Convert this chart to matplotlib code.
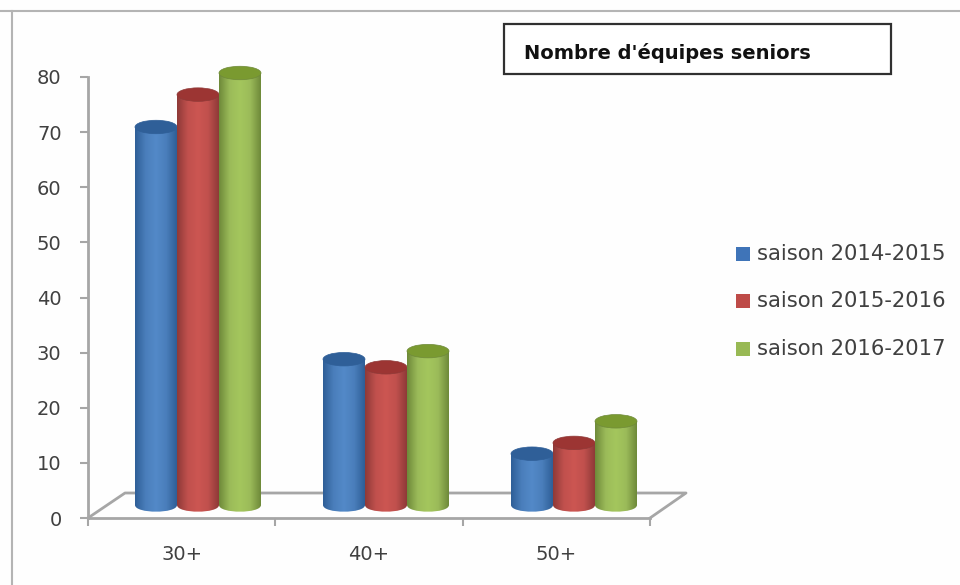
import numpy as np
import matplotlib
matplotlib.use('Agg')
from matplotlib import pyplot as plt
from matplotlib.lines import Line2D
from matplotlib.patches import Ellipse, PathPatch, Rectangle
from matplotlib.path import Path
from matplotlib.colors import LinearSegmentedColormap

categories = ['30+', '40+', '50+']
seasons = ['saison 2014-2015', 'saison 2015-2016', 'saison 2016-2017']
saison_2014 = [70, 27, 9.5]
saison_2015 = [76, 25.5, 11.5]
saison_2016 = [80, 28.5, 15.5]
y_ticks = [0, 10, 20, 30, 40, 50, 60, 70, 80]

# dark edge, main, light centre, top face, legend
blues = ['#2f5f98', '#4a7ebb', '#5389c8', '#2f5f98', '#3f74b8']
reds = ['#8f3a38', '#c0504d', '#cc5652', '#9c3533', '#be4b48']
greens = ['#6f8a3a', '#9bbb59', '#a4c65d', '#7a9a30', '#98b954']

W, H = 960, 585
GRAY = '#a6a6a6'
TEXT = '#404040'


def fx(x):
    return x / W


def fy(y):
    return 1 - y / H


def px_axes(x0, x1, y_bottom, y_top):
    return [fx(x0), fy(y_bottom), (x1 - x0) / W, (y_bottom - y_top) / H]


def px_line(xs, ys, color=GRAY, lw=2.0, zorder=-1):
    fig.add_artist(Line2D([fx(x) for x in xs], [fy(y) for y in ys], color=color, lw=lw, zorder=zorder))


fig = plt.figure(figsize=(9.6, 5.85), dpi=100, facecolor='#fefefe')

# axis plane
ax = fig.add_axes(px_axes(88, 650, 518, 77))
ax.patch.set_alpha(0)
ax.set_xlim(0, 3)
ax.set_ylim(0, 80)
for s in ['top', 'right']:
    ax.spines[s].set_visible(False)
for s in ['left', 'bottom']:
    ax.spines[s].set_color(GRAY)
    ax.spines[s].set_linewidth(2)
ax.set_yticks(y_ticks)
ax.set_xticks([0, 1, 2, 3])
ax.set_xticklabels([])
ax.tick_params(axis='both', color=GRAY, width=1.5, length=6, labelsize=14, labelcolor=TEXT)
ax.tick_params(axis='y', pad=13)
for i, c in enumerate(categories):
    ax.text(i + 0.5, -6.6, c, ha='center', va='center', fontsize=14, color=TEXT)

# floor, behind the bars
px_line([88, 125, 686, 650], [518, 493, 493, 518])

# cylinders sit on a plane pushed back from the axis, 5.4 px per unit
# the axes runs 5 units past each end so the images are not cut at its box
bx = fig.add_axes(px_axes(104, 668, 532, 46))
bx.axis('off')

bar_w = 0.2234
cap_h = 2.5


def cylinder(x, v, cols):
    cmap = LinearSegmentedColormap.from_list('c', [cols[0], cols[1], cols[2], cols[1], cols[0]])
    im = bx.imshow(np.linspace(0, 1, 64).reshape(1, -1), cmap=cmap, aspect='auto',
                   extent=(x - bar_w / 2, x + bar_w / 2, -cap_h, v), zorder=3)
    # side outline with rounded base
    verts = [(x - bar_w / 2, v), (x - bar_w / 2, 0)]
    codes = [Path.MOVETO, Path.LINETO]
    verts += [(x - bar_w / 2, -cap_h * 0.66), (x + bar_w / 2, -cap_h * 0.66), (x + bar_w / 2, 0)]
    codes += [Path.CURVE4, Path.CURVE4, Path.CURVE4]
    verts += [(x + bar_w / 2, v), (x - bar_w / 2, v)]
    codes += [Path.LINETO, Path.CLOSEPOLY]
    clip = PathPatch(Path(verts, codes), transform=bx.transData, fc='none', ec='none')
    bx.add_patch(clip)
    im.set_clip_path(clip)
    bx.add_patch(Ellipse((x, v), bar_w, cap_h, fc=cols[3], ec=cols[0], lw=0.5, zorder=3))


series = [(saison_2014, blues), (saison_2015, reds), (saison_2016, greens)]
for j, (vals, cols) in enumerate(series):
    for i, v in enumerate(vals):
        cylinder(i + 0.5 + (j - 1) * bar_w, v, cols)
bx.set_xlim(0, 3)
bx.set_ylim(-5, 85)

# outer frame of the chart area
px_line([0, 960], [11, 11], '#b4b4b4', 1.5)
px_line([12, 12], [11, 585], '#b4b4b4', 1.5)

# title box
fig.add_artist(Rectangle((fx(503.5), fy(74)), 387 / W, 50 / H, transform=fig.transFigure,
                         fc='white', ec='#303030', lw=1.6))
fig.text(fx(524), fy(53), "Nombre d'équipes seniors", fontsize=14, fontweight='bold',
         color='#111111', va='center', ha='left')

# legend
for (name, (vals, cols), y) in zip(seasons, series, [254, 301, 349]):
    fig.add_artist(Rectangle((fx(736), fy(y + 7)), 14 / W, 14 / H, transform=fig.transFigure,
                             fc=cols[4], ec='none'))
    fig.text(fx(757), fy(y), name, fontsize=15.2, color=TEXT, va='center', ha='left')

fig.savefig('out.png', dpi=100, facecolor=fig.get_facecolor())
